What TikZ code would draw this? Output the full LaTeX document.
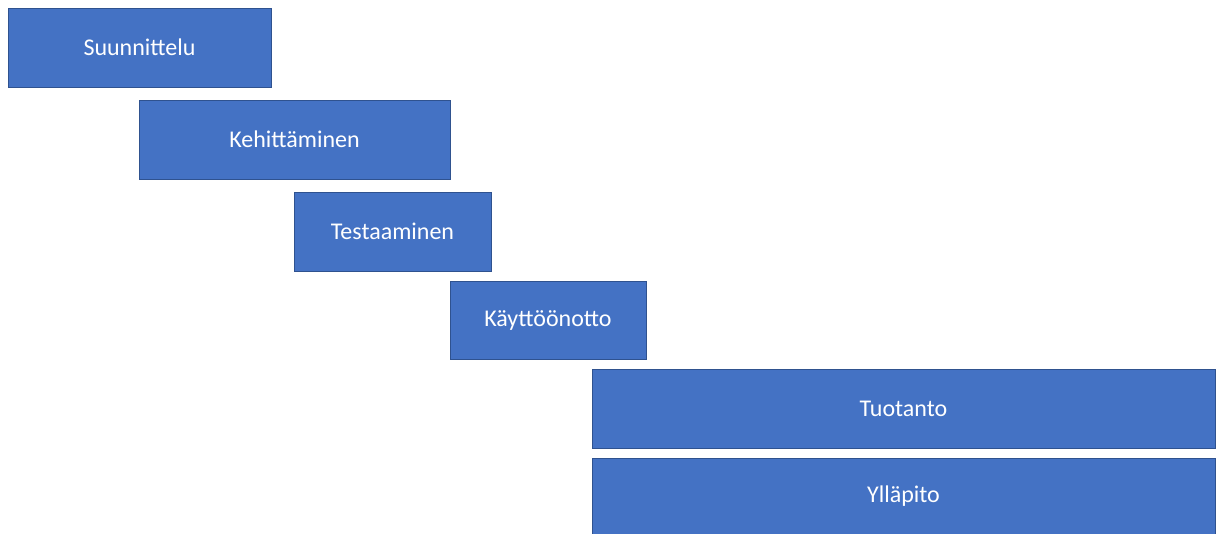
\documentclass[tikz,border=0pt]{standalone}
\usepackage{fontspec}
\setmainfont{Carlito}
\definecolor{phasefill}{HTML}{4472C4}
\definecolor{phaseline}{HTML}{2F528F}
\begin{document}
\begin{tikzpicture}[x=1pt,y=-1pt,
  phase/.style={draw=phaseline,line width=0.8pt,fill=phasefill,text=white,
    font=\fontsize{24}{28}\selectfont}]
\useasboundingbox (0,0) rectangle (1216,534);
% each phase spans its own period
\path[phase] (8,8) rectangle (271,87.5) node[midway] (p1) {Suunnittelu};
\path[phase] (139,100) rectangle (450,179) node[midway] (p2) {Kehittäminen};
\path[phase] (294,192) rectangle (491,271.5) node[midway] (p3) {Testaaminen};
\path[phase] (450,281.5) rectangle (646,359) node[midway] (p4) {Käyttöönotto};
\path[phase] (592,369) rectangle (1215,448) node[midway] (p5) {Tuotanto};
\path[phase] (592,458) rectangle (1215,534) node[midway] (p6) {Ylläpito};
\end{tikzpicture}
\end{document}
